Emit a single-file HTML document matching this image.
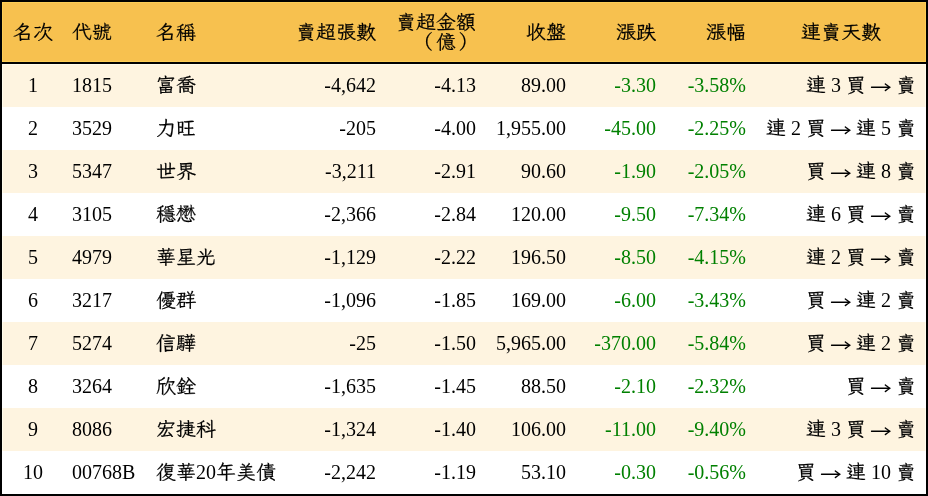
<!DOCTYPE html><html lang="zh-Hant"><head><meta charset="utf-8"><title>賣超排行</title><style>
*{margin:0;padding:0;box-sizing:border-box}
html,body{width:928px;height:496px;overflow:hidden;background:#fff}
body{font-family:"Liberation Serif","LXGW WenKai TC","Noto Serif CJK TC",serif;font-size:20px;color:#000}
#t{position:absolute;left:0;top:0;width:928px;height:496px;border:2px solid #000;background:#fff}
.hd{position:absolute;left:0;top:0;width:924px;height:60px;background:#F7C14F;box-shadow:inset 1px 1px 0 #FCCD56,inset -1px -1px 0 #FCCD56}
.hl{position:absolute;left:0;top:60px;width:924px;height:2px;background:#000}
.r{position:absolute;left:0;width:924px;height:43px}
.r.o{background:#FEF4E0;box-shadow:inset 1px 0 0 #FFFCEC,inset -1px 0 0 #FFFCEC}
.r.f{box-shadow:inset 1px 1px 0 #FFFCEC,inset -1px 0 0 #FFFCEC}
.c{position:absolute;top:0;white-space:nowrap;line-height:43px;height:43px}
.hd .c{line-height:60px;height:60px}
.c1{left:0;width:62px;text-align:center}
.c2{left:70px}
.c3{left:154px}
.c4{right:550px;text-align:right}
.c5{right:450px;text-align:right}
.c6{right:360px;text-align:right}
.c7{right:270px;text-align:right}
.c8{right:180px;text-align:right}
.c9{right:10px;text-align:right}
.k{font-family:"LXGW WenKai TC","Noto Serif CJK TC",serif;font-weight:normal;-webkit-text-stroke:0.2px #000;line-height:10px}
.a{font-family:"LXGW WenKai TC","Noto Serif CJK TC",serif;font-weight:normal;position:relative;top:2.5px;line-height:10px;display:inline-block;transform:scale(1.12,1.2)}
.pl{position:relative;left:-3px;font-family:"Noto Serif CJK TC",serif;font-weight:normal}
.pr{position:relative;left:2.5px;font-family:"Noto Serif CJK TC",serif;font-weight:normal}
.g{color:#008000}
.hd .c5{line-height:20px;top:10px;height:42px}
.hd .c9{right:auto;left:799px;text-align:left}
</style></head><body><div id="t">
<div class="hd"><span class="c c1"><span class="k">名次</span></span><span class="c c2"><span class="k">代號</span></span><span class="c c3"><span class="k">名稱</span></span><span class="c c4"><span class="k">賣超張數</span></span><span class="c c5"><span class="k">賣超金額<br><span class="pl">（</span>億<span class="pr">）</span></span></span><span class="c c6"><span class="k">收盤</span></span><span class="c c7"><span class="k">漲跌</span></span><span class="c c8"><span class="k">漲幅</span></span><span class="c c9"><span class="k">連賣天數</span></span></div><div class="hl"></div>
<div class="r o f" style="top:62px"><span class="c c1">1</span><span class="c c2">1815</span><span class="c c3"><span class="k">富喬</span></span><span class="c c4">-4,642</span><span class="c c5">-4.13</span><span class="c c6">89.00</span><span class="c c7 g">-3.30</span><span class="c c8 g">-3.58%</span><span class="c c9"><span class="k">連</span> 3 <span class="k">買</span> <span class="a">→</span> <span class="k">賣</span></span></div>
<div class="r" style="top:105px"><span class="c c1">2</span><span class="c c2">3529</span><span class="c c3"><span class="k">力旺</span></span><span class="c c4">-205</span><span class="c c5">-4.00</span><span class="c c6">1,955.00</span><span class="c c7 g">-45.00</span><span class="c c8 g">-2.25%</span><span class="c c9"><span class="k">連</span> 2 <span class="k">買</span> <span class="a">→</span> <span class="k">連</span> 5 <span class="k">賣</span></span></div>
<div class="r o" style="top:148px"><span class="c c1">3</span><span class="c c2">5347</span><span class="c c3"><span class="k">世界</span></span><span class="c c4">-3,211</span><span class="c c5">-2.91</span><span class="c c6">90.60</span><span class="c c7 g">-1.90</span><span class="c c8 g">-2.05%</span><span class="c c9"><span class="k">買</span> <span class="a">→</span> <span class="k">連</span> 8 <span class="k">賣</span></span></div>
<div class="r" style="top:191px"><span class="c c1">4</span><span class="c c2">3105</span><span class="c c3"><span class="k">穩懋</span></span><span class="c c4">-2,366</span><span class="c c5">-2.84</span><span class="c c6">120.00</span><span class="c c7 g">-9.50</span><span class="c c8 g">-7.34%</span><span class="c c9"><span class="k">連</span> 6 <span class="k">買</span> <span class="a">→</span> <span class="k">賣</span></span></div>
<div class="r o" style="top:234px"><span class="c c1">5</span><span class="c c2">4979</span><span class="c c3"><span class="k">華星光</span></span><span class="c c4">-1,129</span><span class="c c5">-2.22</span><span class="c c6">196.50</span><span class="c c7 g">-8.50</span><span class="c c8 g">-4.15%</span><span class="c c9"><span class="k">連</span> 2 <span class="k">買</span> <span class="a">→</span> <span class="k">賣</span></span></div>
<div class="r" style="top:277px"><span class="c c1">6</span><span class="c c2">3217</span><span class="c c3"><span class="k">優群</span></span><span class="c c4">-1,096</span><span class="c c5">-1.85</span><span class="c c6">169.00</span><span class="c c7 g">-6.00</span><span class="c c8 g">-3.43%</span><span class="c c9"><span class="k">買</span> <span class="a">→</span> <span class="k">連</span> 2 <span class="k">賣</span></span></div>
<div class="r o" style="top:320px"><span class="c c1">7</span><span class="c c2">5274</span><span class="c c3"><span class="k">信驊</span></span><span class="c c4">-25</span><span class="c c5">-1.50</span><span class="c c6">5,965.00</span><span class="c c7 g">-370.00</span><span class="c c8 g">-5.84%</span><span class="c c9"><span class="k">買</span> <span class="a">→</span> <span class="k">連</span> 2 <span class="k">賣</span></span></div>
<div class="r" style="top:363px"><span class="c c1">8</span><span class="c c2">3264</span><span class="c c3"><span class="k">欣銓</span></span><span class="c c4">-1,635</span><span class="c c5">-1.45</span><span class="c c6">88.50</span><span class="c c7 g">-2.10</span><span class="c c8 g">-2.32%</span><span class="c c9"><span class="k">買</span> <span class="a">→</span> <span class="k">賣</span></span></div>
<div class="r o" style="top:406px"><span class="c c1">9</span><span class="c c2">8086</span><span class="c c3"><span class="k">宏捷科</span></span><span class="c c4">-1,324</span><span class="c c5">-1.40</span><span class="c c6">106.00</span><span class="c c7 g">-11.00</span><span class="c c8 g">-9.40%</span><span class="c c9"><span class="k">連</span> 3 <span class="k">買</span> <span class="a">→</span> <span class="k">賣</span></span></div>
<div class="r" style="top:449px"><span class="c c1">10</span><span class="c c2">00768B</span><span class="c c3"><span class="k">復華</span>20<span class="k">年美債</span></span><span class="c c4">-2,242</span><span class="c c5">-1.19</span><span class="c c6">53.10</span><span class="c c7 g">-0.30</span><span class="c c8 g">-0.56%</span><span class="c c9"><span class="k">買</span> <span class="a">→</span> <span class="k">連</span> 10 <span class="k">賣</span></span></div>
</div></body></html>
